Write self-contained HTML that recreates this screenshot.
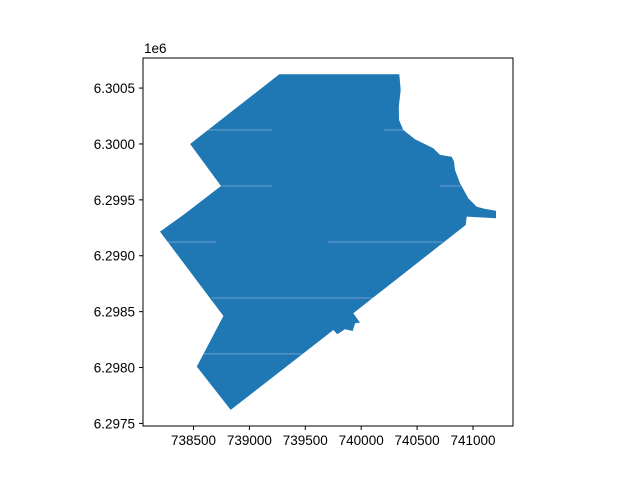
<!DOCTYPE html>
<html><head><meta charset="utf-8">
<style>
html,body{margin:0;padding:0;background:#fff;}
svg{display:block;font-family:"Liberation Sans","DejaVu Sans",sans-serif;}
</style></head>
<body>
<svg id="chart" width="640" height="480" viewBox="0 0 640 480" xmlns="http://www.w3.org/2000/svg"></svg>
<script>
const xTicks = [738500, 739000, 739500, 740000, 740500, 741000];
const yTicks = [6297500, 6298000, 6298500, 6299000, 6299500, 6300000, 6300500];
const yTickLabels = ["6.2975", "6.2980", "6.2985", "6.2990", "6.2995", "6.3000", "6.3005"];
const polyX = [739267,740341,740353,740336,740338,740377,740481,740645,740705,740810,740830,740839,740884,740958,741033,741107,741206,741206,740944,740935,739929,739989,739945,739924,739855,739786,739751,738833,738529,738767,738200,738409,738746,738469];
const polyY = [6300623,6300623,6300483,6300334,6300215,6300125,6300042,6299962,6299902,6299886,6299842,6299767,6299648,6299514,6299439,6299419,6299403,6299335,6299350,6299275,6298486,6298402,6298396,6298327,6298342,6298298,6298336,6297621,6298008,6298461,6299216,6299365,6299624,6300000];
const seamY = [6300125, 6300125, 6299624, 6299624, 6299123, 6299123, 6298622, 6298622, 6298122];
const seamX0 = [738621, 740204, 738746, 740705, 738272, 739703, 738665, 739703, 738576];
const seamX1 = [739202, 740374, 739202, 740893, 738701, 740732, 739703, 740115, 739471];

const X0 = 738048, X1 = 741358, Y0 = 6297477, Y1 = 6300769;
const L = 143, R = 513, T = 58, B = 426;
const sx = v => L + (v - X0) / (X1 - X0) * (R - L);
const sy = v => B - (v - Y0) / (Y1 - Y0) * (B - T);
const svg = document.getElementById('chart');
const NS = 'http://www.w3.org/2000/svg';
function mk(tag, attrs, parent) {
  const e = document.createElementNS(NS, tag);
  for (const k in attrs) e.setAttribute(k, attrs[k]);
  (parent || svg).appendChild(e);
  return e;
}
const pts = polyX.map((x, i) => sx(x).toFixed(1) + ',' + sy(polyY[i]).toFixed(1)).join(' ');
const defs = mk('defs', {});
const cp = mk('clipPath', {id: 'polyclip'}, defs);
mk('polygon', {points: pts}, cp);
const poly = mk('polygon', {points: pts, fill: '#1f77b4'});


const seams = mk('g', {'clip-path': 'url(#polyclip)'});
seamX0.forEach((x0, i) => {
  const ln = mk('line', {x1: sx(x0), x2: sx(seamX1[i]), y1: sy(seamY[i]), y2: sy(seamY[i]), stroke: '#8fb5d6', 'stroke-width': 1, opacity: 0.7}, seams);
  
  
});
const frame = mk('rect', {x: L, y: T, width: R - L, height: B - T, fill: 'none', stroke: '#000', 'stroke-width': 1});


xTicks.forEach(v => {
  const x = sx(v);
  const t = mk('line', {x1: x, x2: x, y1: B, y2: B + 4, stroke: '#000'});
  
  
  const lb = mk('text', {x: x, y: B + 19, 'text-anchor': 'middle', 'font-size': 13.5, fill: '#000'});
  lb.textContent = String(v);
  
  
});
yTicks.forEach((v, i) => {
  const y = sy(v);
  const t = mk('line', {x1: L - 4, x2: L, y1: y, y2: y, stroke: '#000'});
  
  
  const lb = mk('text', {x: L - 8, y: y + 5, 'text-anchor': 'end', 'font-size': 13.5, fill: '#000'});
  lb.textContent = yTickLabels[i];
  
  
});
const off = mk('text', {x: 144, y: 53, 'font-size': 13.5, fill: '#000'});
off.textContent = '1e6';


</script>
</body></html>
